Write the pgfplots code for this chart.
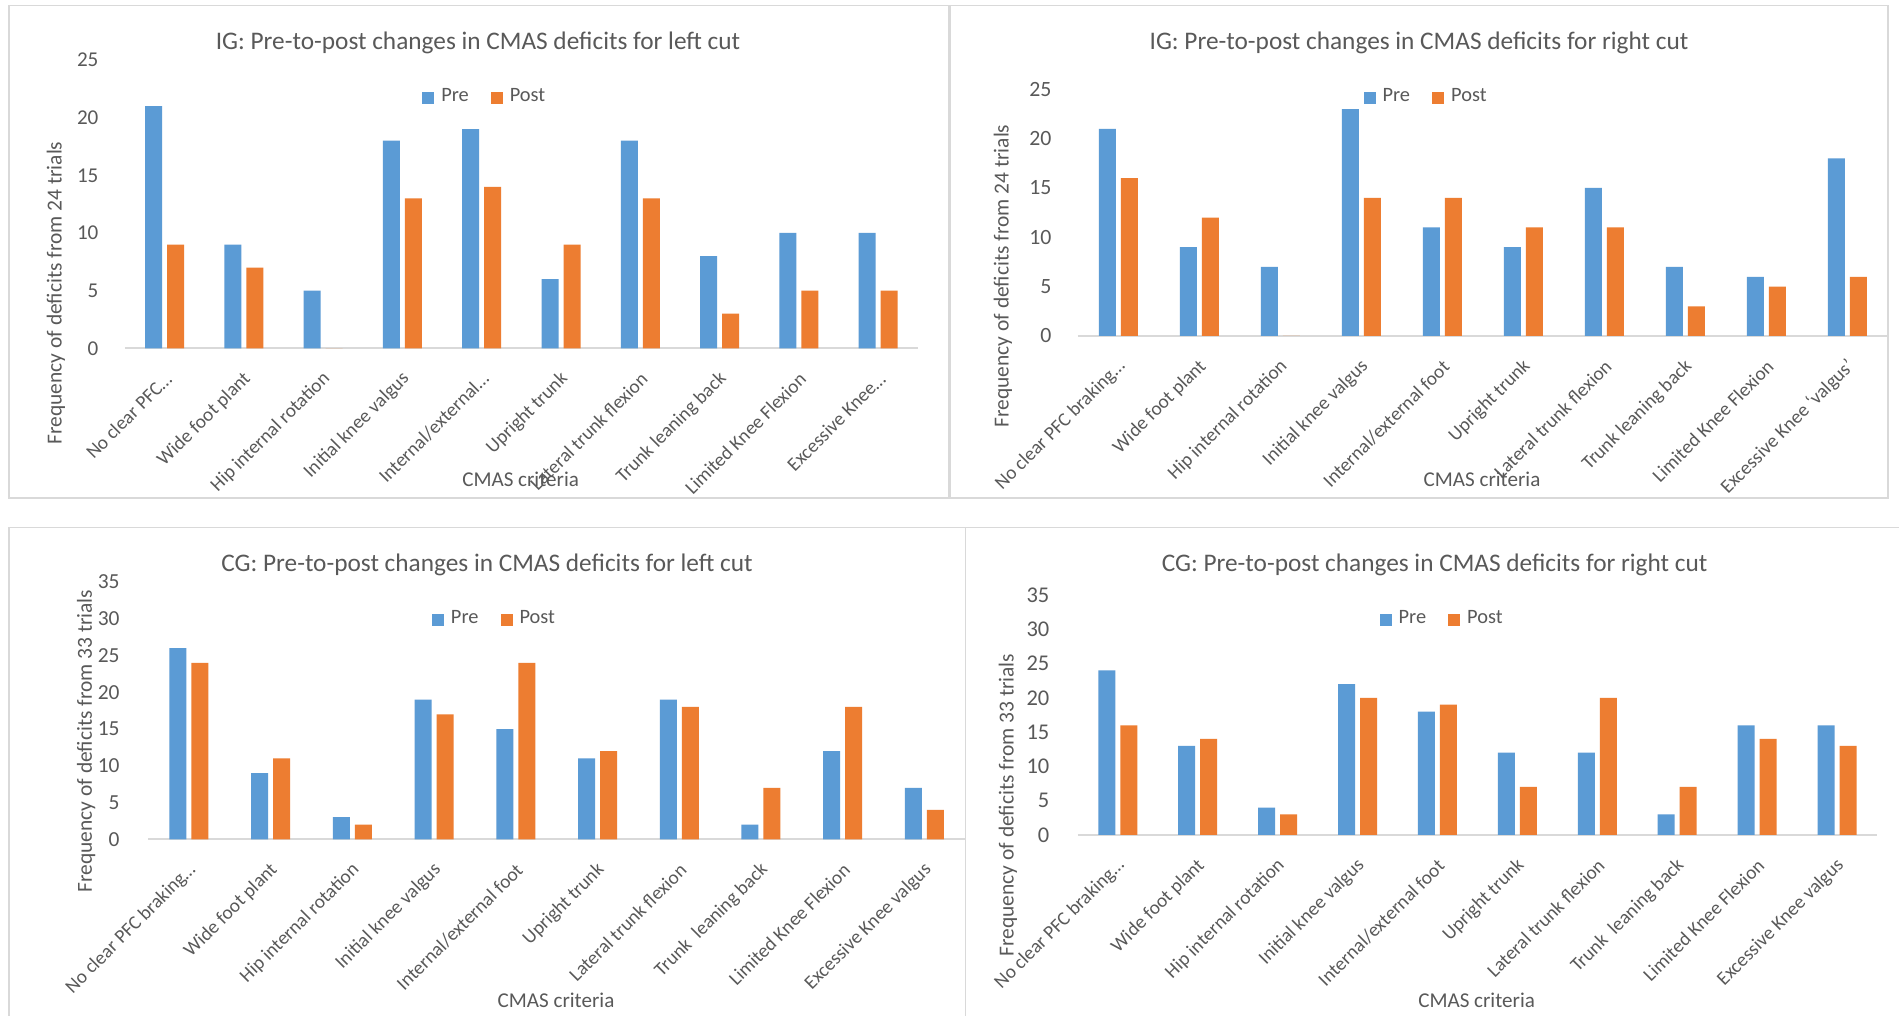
\documentclass[border=0pt]{standalone}
\usepackage{fontspec}
\setmainfont{Carlito}
\usepackage{pgfplots}
\pgfplotsset{compat=1.18}
\definecolor{cblue}{HTML}{5B9BD5}
\definecolor{corange}{HTML}{ED7D31}
\definecolor{tc}{HTML}{595959}
\definecolor{lc}{HTML}{D9D9D9}

\pgfplotsset{
 cmas/.style={
  scale only axis, anchor=south west,
  ybar=0.5mm, bar width=1.7mm,
  xmin=-0.5, xmax=9.5, ymin=0,
  axis lines*=left,
  axis line style={-},
  x axis line style={-, draw=lc, line width=0.2mm},
  y axis line style={draw=none},
  tick style={draw=none},
  major tick length=0pt, tick align=inside,
  xtick={0,...,9},
  /pgf/number format/assume math mode=true,
  yticklabel style={text=tc, xshift=-1.4mm, font=\fontsize{6}{7}\selectfont},
  xticklabel style={text=tc, xshift=1.26mm, yshift=-1.9mm, rotate=45, anchor=east, font=\fontsize{5.5}{6}\selectfont},
  legend style={draw=none, fill=none, legend columns=2, font=\fontsize{5.8}{7}\selectfont, text=tc, anchor=center, /tikz/every even column/.append style={column sep=1.5mm}},
  legend image code/.code={\fill[##1] (0mm,-0.6mm) rectangle (1.2mm,0.6mm);},
  clip=false,
 },
}

\begin{document}
\begin{tikzpicture}
\useasboundingbox (0,0) rectangle (189.9mm,101.6mm);
\fill[white] (0,0) rectangle (189.9mm,101.6mm);
% panel borders
\draw[lc, line width=0.15mm] (0.9mm,51.8mm) rectangle (94.85mm,101.03mm);
\draw[lc, line width=0.15mm] (95.0mm,51.8mm) rectangle (188.8mm,101.03mm);
\draw[lc, line width=0.15mm] (0.9mm,-1mm) -- (0.9mm,48.87mm) -- (96.55mm,48.87mm) -- (96.55mm,-1mm);
\draw[lc, line width=0.15mm] (96.55mm,48.87mm) -- (191mm,48.87mm);

% ---------- Panel 1: IG left ----------
\begin{axis}[cmas, at={(12.485mm,66.77mm)}, width=79.30mm, height=28.83mm,
  ymax=25, ytick={0,5,...,25},
  xticklabels={No clear PFC…, Wide foot plant, Hip internal rotation, Initial knee valgus, Internal/external…, Upright trunk, Lateral trunk flexion, Trunk leaning back, Limited Knee Flexion, Excessive Knee…},
  legend style={at={(0.457,0.869)}}]
\addplot[fill=cblue, draw=none] coordinates {(0,21) (1,9) (2,5) (3,18) (4,19) (5,6) (6,18) (7,8) (8,10) (9,10)};
\addplot[fill=corange, draw=none] coordinates {(0,9) (1,7) (2,0) (3,13) (4,14) (5,9) (6,13) (7,3) (8,5) (9,5)};
\legend{Pre, Post}
\end{axis}

% ---------- Panel 2: IG right ----------
\begin{axis}[cmas, at={(107.79mm,68.00mm)}, width=80.99mm, height=24.67mm,
  ymax=25, ytick={0,5,...,25},
  yticklabel style={font=\fontsize{6.2}{7}\selectfont},
  xticklabels={No clear PFC braking…, Wide foot plant, Hip internal rotation, Initial knee valgus, Internal/external foot, Upright trunk, Lateral trunk flexion, Trunk leaning back, Limited Knee Flexion, Excessive Knee ‘valgus’},
  legend style={at={(0.433,0.965)}}]
\addplot[fill=cblue, draw=none] coordinates {(0,21) (1,9) (2,7) (3,23) (4,11) (5,9) (6,15) (7,7) (8,6) (9,18)};
\addplot[fill=corange, draw=none] coordinates {(0,16) (1,12) (2,0) (3,14) (4,14) (5,11) (6,11) (7,3) (8,5) (9,6)};
\legend{Pre, Post}
\end{axis}

% ---------- Panel 3: CG left ----------
\begin{axis}[cmas, at={(14.80mm,17.67mm)}, width=81.73mm, height=25.73mm,
  ymax=35, ytick={0,5,...,35},
  yticklabel style={xshift=-0.2mm, font=\fontsize{6.1}{7}\selectfont},
  xticklabels={No clear PFC braking…, Wide foot plant, Hip internal rotation, Initial knee valgus, Internal/external foot, Upright trunk, Lateral trunk flexion, Trunk\ \ leaning back, Limited Knee Flexion, Excessive Knee valgus},
  legend style={at={(0.427,0.852)}}]
\addplot[fill=cblue, draw=none] coordinates {(0,26) (1,9) (2,3) (3,19) (4,15) (5,11) (6,19) (7,2) (8,12) (9,7)};
\addplot[fill=corange, draw=none] coordinates {(0,24) (1,11) (2,2) (3,17) (4,24) (5,12) (6,18) (7,7) (8,18) (9,4)};
\legend{Pre, Post}
\end{axis}

% ---------- Panel 4: CG right ----------
\begin{axis}[cmas, at={(107.78mm,18.10mm)}, width=79.92mm, height=24.00mm,
  ymax=35, ytick={0,5,...,35},
  yticklabel style={xshift=-0.2mm, font=\fontsize{6.4}{7}\selectfont},
  xticklabels={No clear PFC braking…, Wide foot plant, Hip internal rotation, Initial knee valgus, Internal/external foot, Upright trunk, Lateral trunk flexion, Trunk\ \ leaning back, Limited Knee Flexion, Excessive Knee valgus},
  legend style={at={(0.459,0.896)}}]
\addplot[fill=cblue, draw=none] coordinates {(0,24) (1,13) (2,4) (3,22) (4,18) (5,12) (6,12) (7,3) (8,16) (9,16)};
\addplot[fill=corange, draw=none] coordinates {(0,16) (1,14) (2,3) (3,20) (4,19) (5,7) (6,20) (7,7) (8,14) (9,13)};
\legend{Pre, Post}
\end{axis}

% titles
\begin{scope}[text=tc]
\node[anchor=base, font=\fontsize{7.2}{8}\selectfont] at (47.8mm,96.6mm) {IG: Pre-to-post changes in CMAS deficits for left cut};
\node[anchor=base, font=\fontsize{7.2}{8}\selectfont] at (141.9mm,96.6mm) {IG: Pre-to-post changes in CMAS deficits for right cut};
\node[anchor=base, font=\fontsize{7.2}{8}\selectfont] at (48.7mm,44.43mm) {CG: Pre-to-post changes in CMAS deficits for left cut};
\node[anchor=base, font=\fontsize{7.2}{8}\selectfont] at (143.46mm,44.43mm) {CG: Pre-to-post changes in CMAS deficits for right cut};
% x labels
\node[anchor=base, font=\fontsize{6}{7}\selectfont] at (52.06mm,52.9mm) {CMAS criteria};
\node[anchor=base, font=\fontsize{6}{7}\selectfont] at (148.2mm,52.9mm) {CMAS criteria};
\node[anchor=base, font=\fontsize{6}{7}\selectfont] at (55.6mm,0.8mm) {CMAS criteria};
\node[anchor=base, font=\fontsize{6}{7}\selectfont] at (147.66mm,0.8mm) {CMAS criteria};
% y labels
\node[rotate=90, font=\fontsize{6.1}{7}\selectfont] at (5.58mm,72.3mm) {Frequency of deficits from 24 trials};
\node[rotate=90, font=\fontsize{6.1}{7}\selectfont] at (100.28mm,74.0mm) {Frequency of deficits from 24 trials};
\node[rotate=90, font=\fontsize{6.1}{7}\selectfont] at (8.62mm,27.5mm) {Frequency of deficits from 33 trials};
\node[rotate=90, font=\fontsize{6.1}{7}\selectfont] at (100.8mm,21.1mm) {Frequency of deficits from 33 trials};
\end{scope}
\end{tikzpicture}
\end{document}
